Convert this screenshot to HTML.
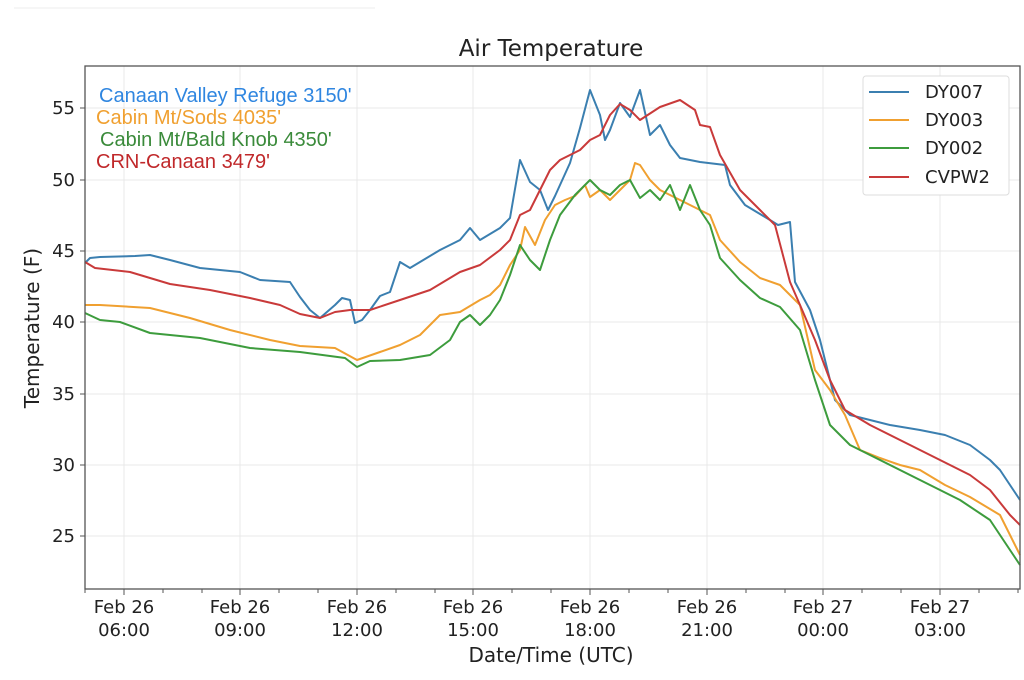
<!DOCTYPE html>
<html><head><style>body{margin:0;background:#fff}svg{display:block}</style></head><body>
<svg width="1024" height="680" xmlns="http://www.w3.org/2000/svg" font-family="'DejaVu Sans','Liberation Sans',sans-serif">
<rect width="1024" height="680" fill="#fff"/>
<line x1="14" y1="8" x2="375" y2="8" stroke="#eee"/>
<g stroke="#e8e8e8" stroke-width="1">
<line x1="124" y1="66" x2="124" y2="589"/><line x1="240" y1="66" x2="240" y2="589"/><line x1="357" y1="66" x2="357" y2="589"/><line x1="473" y1="66" x2="473" y2="589"/><line x1="590" y1="66" x2="590" y2="589"/><line x1="707" y1="66" x2="707" y2="589"/><line x1="823" y1="66" x2="823" y2="589"/><line x1="940" y1="66" x2="940" y2="589"/>
<line x1="85" y1="108" x2="1020" y2="108"/><line x1="85" y1="180" x2="1020" y2="180"/><line x1="85" y1="251" x2="1020" y2="251"/><line x1="85" y1="322" x2="1020" y2="322"/><line x1="85" y1="394" x2="1020" y2="394"/><line x1="85" y1="465" x2="1020" y2="465"/><line x1="85" y1="536" x2="1020" y2="536"/>
</g>
<g fill="none" stroke-width="2" stroke-linejoin="round">
<polyline stroke="#3b7fb0" points="85,263 90,258 100,257 135,256 150,255 170,260 200,268 240,272 260,280 290,282 300,297 310,310 320,318 335,305 342,298 350,300 355,323 362,320 370,310 380,296 390,292 400,262 410,268 420,262 440,250 460,240 470,228 480,240 500,228 510,218 520,160 530,182 540,190 548,210 555,196 570,163 580,128 590,90 600,115 605,140 610,130 620,103 630,117 640,90 650,135 660,125 670,145 680,158 700,162 725,165 730,185 745,205 770,220 778,225 790,222 795,282 810,310 820,340 835,400 850,415 870,420 890,425 920,430 945,435 970,445 990,460 1000,470 1020,500"/>
<polyline stroke="#f0a030" points="85,305 100,305 150,308 190,318 230,330 270,340 300,346 335,348 357,360 380,352 400,345 420,335 440,315 460,312 480,300 490,295 500,285 510,265 520,250 525,227 535,245 545,220 555,205 565,200 575,196 585,185 590,197 600,190 610,200 620,190 630,180 635,163 640,165 650,180 660,190 670,195 690,205 710,215 720,240 740,262 760,278 780,285 800,305 815,370 830,390 845,415 860,450 880,458 900,465 920,470 945,485 970,497 1000,515 1020,555"/>
<polyline stroke="#3d9c3d" points="85,313 100,320 120,322 150,333 200,338 250,348 300,352 345,358 357,367 370,361 400,360 430,355 450,340 460,322 470,315 480,325 490,315 500,300 510,275 520,245 530,260 540,270 550,240 560,215 575,195 590,180 600,190 610,195 620,185 630,180 640,198 650,190 660,200 670,185 680,210 690,185 700,210 710,225 720,258 740,280 760,298 780,307 800,330 815,380 830,425 850,445 880,460 920,480 960,500 990,520 1020,565"/>
<polyline stroke="#c93a3a" points="85,262 95,268 130,272 170,284 210,290 250,298 280,305 300,314 320,318 335,312 350,310 370,310 400,300 430,290 460,272 480,265 500,250 510,240 520,215 530,210 540,190 550,170 560,160 570,155 580,150 590,140 600,135 610,115 620,104 630,110 640,120 660,107 680,100 695,110 700,125 710,127 720,155 740,190 760,210 775,225 790,282 800,305 815,340 830,380 845,410 870,425 900,440 940,460 970,475 990,490 1010,515 1020,525"/>
</g>
<rect x="85" y="66" width="935" height="523" fill="none" stroke="#555" stroke-width="1.3"/>
<g stroke="#555"><line x1="80" y1="108" x2="85" y2="108"/><line x1="80" y1="180" x2="85" y2="180"/><line x1="80" y1="251" x2="85" y2="251"/><line x1="80" y1="322" x2="85" y2="322"/><line x1="80" y1="394" x2="85" y2="394"/><line x1="80" y1="465" x2="85" y2="465"/><line x1="80" y1="536" x2="85" y2="536"/>
<line x1="124" y1="589" x2="124" y2="595"/><line x1="240" y1="589" x2="240" y2="595"/><line x1="357" y1="589" x2="357" y2="595"/><line x1="473" y1="589" x2="473" y2="595"/><line x1="590" y1="589" x2="590" y2="595"/><line x1="707" y1="589" x2="707" y2="595"/><line x1="823" y1="589" x2="823" y2="595"/><line x1="940" y1="589" x2="940" y2="595"/>
<line x1="85" y1="589" x2="85" y2="593"/><line x1="163" y1="589" x2="163" y2="593"/><line x1="202" y1="589" x2="202" y2="593"/><line x1="279" y1="589" x2="279" y2="593"/><line x1="318" y1="589" x2="318" y2="593"/><line x1="396" y1="589" x2="396" y2="593"/><line x1="435" y1="589" x2="435" y2="593"/><line x1="512" y1="589" x2="512" y2="593"/><line x1="551" y1="589" x2="551" y2="593"/><line x1="629" y1="589" x2="629" y2="593"/><line x1="668" y1="589" x2="668" y2="593"/><line x1="746" y1="589" x2="746" y2="593"/><line x1="785" y1="589" x2="785" y2="593"/><line x1="862" y1="589" x2="862" y2="593"/><line x1="901" y1="589" x2="901" y2="593"/><line x1="979" y1="589" x2="979" y2="593"/><line x1="1018" y1="589" x2="1018" y2="593"/></g>
<g font-size="18" fill="#222" text-anchor="end"><text x="75" y="114">55</text><text x="75" y="186">50</text><text x="75" y="257">45</text><text x="75" y="328">40</text><text x="75" y="400">35</text><text x="75" y="471">30</text><text x="75" y="542">25</text></g>
<g font-size="18" fill="#222" text-anchor="middle">
<text x="124" y="613">Feb 26</text><text x="124" y="636">06:00</text>
<text x="240" y="613">Feb 26</text><text x="240" y="636">09:00</text>
<text x="357" y="613">Feb 26</text><text x="357" y="636">12:00</text>
<text x="473" y="613">Feb 26</text><text x="473" y="636">15:00</text>
<text x="590" y="613">Feb 26</text><text x="590" y="636">18:00</text>
<text x="707" y="613">Feb 26</text><text x="707" y="636">21:00</text>
<text x="823" y="613">Feb 27</text><text x="823" y="636">00:00</text>
<text x="940" y="613">Feb 27</text><text x="940" y="636">03:00</text>
<text x="551" y="662" font-size="20">Date/Time (UTC)</text>
<text x="551" y="56" font-size="23">Air Temperature</text>
</g>
<text transform="translate(39,328) rotate(-90)" font-size="20" fill="#222" text-anchor="middle">Temperature (F)</text>
<g font-family="'Liberation Sans',sans-serif" font-size="20">
<text x="99" y="102" fill="#2f86e0">Canaan Valley Refuge 3150'</text>
<text x="96" y="124" fill="#f0a030">Cabin Mt/Sods 4035'</text>
<text x="100" y="146" fill="#3a8a3a">Cabin Mt/Bald Knob 4350'</text>
<text x="96" y="168" fill="#c0282a">CRN-Canaan 3479'</text>
</g>
<rect x="863" y="76" width="146" height="119" rx="3" fill="#fff" stroke="#ddd"/>
<g stroke-width="2"><line x1="869" y1="92" x2="909" y2="92" stroke="#3b7fb0"/><line x1="869" y1="120" x2="909" y2="120" stroke="#f0a030"/><line x1="869" y1="148" x2="909" y2="148" stroke="#3d9c3d"/><line x1="869" y1="177" x2="909" y2="177" stroke="#c93a3a"/></g>
<g font-size="18" fill="#222"><text x="925" y="98">DY007</text><text x="925" y="126">DY003</text><text x="925" y="154">DY002</text><text x="925" y="183">CVPW2</text></g>
</svg>
</body></html>
